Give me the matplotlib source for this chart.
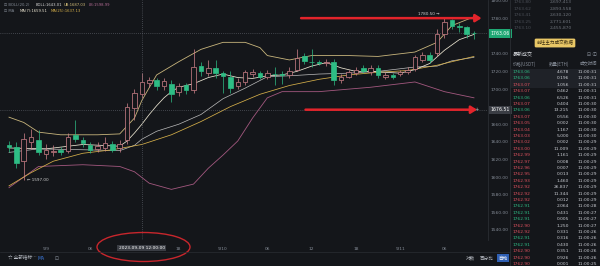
import matplotlib.pyplot as plt
from matplotlib.patches import Rectangle, Ellipse, FancyArrowPatch
from matplotlib.lines import Line2D
from matplotlib.transforms import blended_transform_factory

W, H = 600, 266
BG = '#14161a'
CJK = ['Noto Sans CJK SC', 'DejaVu Sans']

# ---- candle data (1h candles) ----
opens = [1636, 1634, 1618, 1640, 1642, 1626, 1629, 1631, 1630, 1648, 1642, 1636, 1632, 1633, 1637, 1633,
         1642, 1678, 1694, 1707, 1710, 1703, 1706, 1697, 1704, 1699, 1726, 1718, 1724, 1718, 1714, 1703,
         1708, 1717, 1718, 1714, 1717.5, 1717, 1716, 1722, 1737, 1731, 1731, 1729, 1731, 1710, 1714, 1718,
         1724, 1719, 1724, 1714, 1716, 1717, 1719, 1723, 1733, 1739, 1741, 1762, 1778, 1772, 1770, 1764]
highs = [1641, 1640, 1650, 1655, 1653, 1637, 1636, 1634, 1650, 1665, 1646, 1640, 1640, 1645, 1641, 1642,
         1684, 1700, 1718, 1714, 1713, 1712, 1710, 1707, 1707, 1745, 1731, 1733, 1733, 1720, 1721, 1712,
         1722, 1723, 1721, 1722, 1725, 1720, 1725, 1745, 1741, 1745, 1733, 1734, 1734, 1717, 1722, 1725,
         1727, 1727, 1727, 1719, 1718, 1722, 1725, 1739, 1742, 1742, 1768, 1780.5, 1779, 1775, 1772, 1766]
lows = [1628, 1610, 1597, 1632, 1625, 1620, 1624, 1625, 1627, 1640, 1634, 1627, 1628, 1630, 1628, 1629,
        1638, 1665, 1690, 1702, 1699, 1699, 1685, 1692, 1694, 1696, 1715, 1715, 1713, 1695, 1695, 1700,
        1705, 1714, 1711, 1711, 1705, 1706, 1713, 1720, 1728, 1725, 1727, 1726, 1704, 1707, 1712, 1716,
        1718, 1716, 1713, 1711, 1711, 1715, 1717, 1721, 1731, 1730, 1738, 1758, 1768, 1765, 1758, 1757]
closes = [1634, 1616, 1643, 1646, 1629, 1631, 1630, 1629, 1645, 1643, 1639, 1631, 1635, 1639, 1631, 1638,
          1679, 1696, 1708, 1710, 1703, 1709, 1694, 1703, 1699, 1725, 1720, 1724, 1718, 1715, 1701, 1708,
          1719, 1719, 1714, 1718, 1716.5, 1716, 1721, 1735, 1732, 1730.5, 1729, 1731, 1710, 1714, 1719, 1722,
          1721, 1724, 1716, 1716, 1714, 1719, 1722, 1736, 1739, 1733, 1763, 1776, 1772, 1770, 1762, 1763.06]

# ---- indicator readings (candle index, price) ----
ub_idx = [0, 2, 4, 7, 12, 15, 17, 18, 20, 23, 26, 29, 32, 34, 35, 38, 41, 46, 50, 55, 58, 60, 63]
ub_val = [1668, 1662, 1651, 1648, 1648, 1649, 1667, 1687, 1716, 1731, 1745, 1753, 1753, 1747, 1738,
          1733, 1738, 1738, 1737, 1742, 1753, 1772, 1782]
lb_idx = [0, 2, 4, 10, 15, 17, 19, 22, 25, 27, 29, 31, 33, 35, 37, 42, 49, 55, 59, 63]
lb_val = [1588, 1600, 1612, 1614, 1612, 1606, 1593, 1586, 1592, 1610, 1625, 1641, 1667, 1690, 1697,
          1697, 1702, 1708, 1697, 1690]
mid_idx = [0, 4, 10, 15, 17, 18, 20, 23, 26, 29, 32, 35, 38, 42, 46, 50, 55, 58, 60, 63]
mid_val = [1628, 1632, 1631, 1630, 1636, 1643, 1652, 1660, 1671, 1689, 1701, 1714, 1715, 1717, 1718,
           1720, 1725, 1726, 1732, 1736]
ma7_idx = [0, 5, 10, 15, 16, 17, 18, 19, 20, 21, 22, 23, 25, 27, 29, 31, 33, 35, 37, 39, 41, 43, 45,
           47, 49, 51, 53, 55, 57, 59, 61, 63]
ma7_val = [1633, 1632, 1637, 1635, 1641, 1650, 1660, 1671, 1681, 1690, 1697, 1702, 1706, 1713, 1717,
           1713, 1712, 1715, 1716, 1720, 1726, 1730, 1724, 1720, 1720, 1719, 1718, 1722, 1729, 1744, 1756, 1762]
ma25_idx = [0, 3, 6, 10, 14, 18, 22, 26, 30, 34, 38, 42, 46, 50, 54, 58, 63]
ma25_val = [1590, 1605, 1618, 1627, 1631, 1637, 1648, 1663, 1680, 1694, 1704, 1711, 1716, 1719, 1721,
            1727, 1737]

yticks = list(range(1540, 1801, 20))
xtick_idx = [5, 11, 23, 29, 35, 41, 47, 53, 59]
xtick_lab = ['9/9', '06', '18', '9/10', '06', '12', '18', '9/11', '06']
cross_idx = 18
cross_price = 1676.51
cross_time = '2023-09-09 12:00:00'
last_price = 1763.06
low_label = '1597.00'

# ---- recent trades ----
tr_price = ['1763.06', '1763.06', '1763.07', '1763.07', '1763.06', '1763.07', '1763.06', '1763.07',
            '1763.05', '1763.04', '1763.03', '1763.02', '1763.00', '1762.99', '1762.97', '1762.96',
            '1762.95', '1762.93', '1762.92', '1762.92', '1762.92', '1762.91', '1762.91', '1762.91',
            '1762.90', '1762.92', '1762.91', '1762.91', '1762.90', '1762.90', '1762.90']
tr_qty = ['4.678', '0.196', '1.056', '0.462', '6.526', '0.404', '13.215', '0.556', '0.002', '1.167',
          '5.000', '0.002', '11.009', '1.161', '0.008', '0.007', '0.013', '1.460', '26.837', '11.344',
          '0.012', '2.064', '0.431', '0.005', '1.250', '0.331', '0.316', '0.430', '0.351', '0.926', '0.001']
tr_time = ['11:00:31'] * 5 + ['11:00:30'] * 6 + ['11:00:29'] * 10 + ['11:00:28'] + ['11:00:27'] * 3 + \
          ['11:00:26'] * 5 + ['11:00:25']
tr_buy = [1, 1, 0, 0, 1, 0, 1, 0, 0, 0, 0, 0, 0, 0, 0, 0, 0, 0, 0, 0, 0, 1, 1, 1, 0, 0, 1, 1, 0, 0, 0]

book_price = ['1763.80', '1763.62', '1763.41', '1763.25', '1763.10']
book_total = ['2,697,413', '2,893,558', '2,630,120', '2,771,601', '2,455,870']

UPC = '#d4848c'
DNC = '#2ebd85'
GREY = '#848b96'


def fx(x):
    return x / W


def fy(y):
    return 1 - y / H


fig = plt.figure(figsize=(6, 2.66), dpi=100, facecolor=BG)
ax = fig.add_axes([0, 26 / H, 488 / W, 240 / H], facecolor=BG)
ax.set_xlim(-1.22, 64.9)
ax.set_ylim(1528.5, 1801.1)
for s in ax.spines.values():
    s.set_visible(False)
ax.spines['right'].set_visible(True)
ax.spines['right'].set_color('#2a2d33')
ax.spines['right'].set_linewidth(0.6)

# indicator lines
ax.plot(ub_idx, ub_val, color='#c8b57c', lw=0.6)
ax.plot(lb_idx, lb_val, color='#a3587f', lw=0.6)
ax.plot(mid_idx, mid_val, color='#bdbdbd', lw=0.5)
ax.plot(ma25_idx, ma25_val, color='#d6b04a', lw=0.55)
ax.plot(ma7_idx, ma7_val, color='#ece6d2', lw=0.55)

# candles
for i, (o, h, l, c) in enumerate(zip(opens, highs, lows, closes)):
    up = c >= o
    col = UPC if up else DNC
    lo_b, hi_b = min(o, c), max(o, c)
    ax.vlines(i, l, lo_b, color=col, lw=0.5)
    ax.vlines(i, hi_b, h, color=col, lw=0.5)
    ax.add_patch(Rectangle((i - 0.31, lo_b), 0.62, max(hi_b - lo_b, 0.5),
                           facecolor=BG if up else col, edgecolor=col, lw=0.5, zorder=3))

# crosshair and last price lines
ax.axhline(last_price, color='#6c7079', lw=0.5, ls=(0, (1, 2)))
ax.axhline(cross_price, color='#6c7079', lw=0.5, ls=(0, (1, 2)))
ax.axvline(cross_idx, color='#6c7079', lw=0.5, ls=(0, (1, 2)))

# high / low labels
hi_i = highs.index(max(highs))
ax.text(hi_i - 0.6, max(highs) + 2, f'{max(highs):.2f} →', color='#d0d0d0', fontsize=3.0,
        ha='right', va='bottom')
lo_i = lows.index(min(lows))
ax.text(lo_i + 0.5, min(lows), f'← {low_label}', color='#d0d0d0', fontsize=3.0, ha='left', va='center')

# red annotation arrows
for y0, x0, x1 in [(max(highs), 39.2, 64.4), (cross_price, 39.8, 63.8)]:
    ax.add_patch(FancyArrowPatch((x0, y0), (x1, y0), arrowstyle='-|>,head_length=3.5,head_width=2.2',
                                 color='#e3242b', lw=1.8, mutation_scale=1, zorder=6))

# axes ticks (labels under the price boxes are hidden, as in the app)
ax.set_yticks(yticks)
ax.set_yticklabels(['' if v in (1680, 1760) else f'{v:.2f}' for v in yticks])
ax.yaxis.tick_right()
ax.tick_params(axis='y', length=0, pad=2, labelsize=3.2, labelcolor=GREY)
ax.set_xticks(xtick_idx)
ax.set_xticklabels(xtick_lab)
ax.tick_params(axis='x', length=0, pad=5, labelsize=3.2, labelcolor=GREY)

tr = blended_transform_factory(ax.transAxes, ax.transData)
ax.text(1.006, last_price, f'{last_price:.2f}', transform=tr, fontsize=3.3, color='white',
        ha='left', va='center', zorder=8,
        bbox=dict(boxstyle='square,pad=0.35', fc='#1fa874', ec='none'))
ax.text(1.006, cross_price, f'{cross_price:.2f}', transform=tr, fontsize=3.3, color='white',
        ha='left', va='center', zorder=8,
        bbox=dict(boxstyle='square,pad=0.35', fc='#3a3d44', ec='none'))
ax.text(0.982, cross_price, '+', transform=tr, fontsize=3.6, color='#cfcfcf', ha='right', va='center')
trx = blended_transform_factory(ax.transData, ax.transAxes)
ax.text(cross_idx, -0.033, cross_time, transform=trx, fontsize=3.2, color='white', ha='center',
        va='center', zorder=8, clip_on=False, bbox=dict(boxstyle='square,pad=0.3', fc='#3a3d44', ec='none'))

# legend top left
fs_leg = 2.7
fig.text(fx(4), fy(5), '⊡ BOLL(20,2)', fontsize=fs_leg, color=GREY, va='center')
fig.text(fx(36), fy(5), 'BOLL:1643.01', fontsize=fs_leg, color='#d8d8d8', va='center')
fig.text(fx(64), fy(5), 'UB:1687.03', fontsize=fs_leg, color='#d6c07a', va='center')
fig.text(fx(89), fy(5), 'LB:1598.99', fontsize=fs_leg, color='#b06a92', va='center')
fig.text(fx(4), fy(11), '⊡ MA', fontsize=fs_leg, color=GREY, va='center')
fig.text(fx(20), fy(11), 'MA(7):1659.51', fontsize=fs_leg, color='#ece6d2', va='center')
fig.text(fx(51), fy(11), 'MA(25):1637.13', fontsize=fs_leg, color='#d6b04a', va='center')

# red ellipse around time label
fig.patches.append(Ellipse((fx(143.5), fy(247)), 93 / W, 29 / H, transform=fig.transFigure,
                           fill=False, ec='#c8262c', lw=1.0))

# bottom bar
fig.add_artist(Line2D([0, fx(510)], [fy(252), fy(252)], color='#2a2d33', lw=0.5))
fig.text(fx(8), fy(258), '☆ 全部指标…', fontsize=3.3, color='#b8bcc4', va='center', family=CJK)
fig.text(fx(38), fy(258), 'MA', fontsize=3.3, color='#3d7be0', va='center')
fig.text(fx(55), fy(258), '⊡', fontsize=3.3, color=GREY, va='center')
fig.text(fx(466), fy(258), '对数', fontsize=3.3, color='#b8bcc4', va='center', family=CJK)
fig.text(fx(480), fy(258), '百分比', fontsize=3.3, color='#b8bcc4', va='center', family=CJK)
fig.text(fx(498), fy(258), '自动', fontsize=3.3, color='white', va='center', family=CJK,
         bbox=dict(boxstyle='square,pad=0.3', fc='#2f5fb3', ec='none'))

# right panel
fig.add_artist(Line2D([fx(510), fx(510)], [0, 1], color='#2a2d33', lw=0.6))
for k, (bp, bt) in enumerate(zip(book_price, book_total)):
    y = 2 + k * 6.6
    fig.text(fx(514), fy(y), bp, fontsize=3.2, color='#4a4e56', va='center')
    fig.text(fx(572), fy(y), bt, fontsize=3.2, color='#6f747c', va='center', ha='right')
fig.text(fx(555), fy(43), '前往主力成交数据', fontsize=3.3, color='#3a2e10', va='center', ha='center',
         family=CJK, bbox=dict(boxstyle='round,pad=0.4,rounding_size=0.3', fc='#e9c766', ec='none'))
fig.text(fx(513), fy(55), '最新成交', fontsize=3.6, color='#d8dbe0', va='center', family=CJK)
fig.text(fx(597), fy(55), '⊟ ⓘ', fontsize=3.4, color=GREY, va='center', ha='right',
         family=['DejaVu Sans', 'Noto Sans CJK SC'])
fig.text(fx(513), fy(64), '价格(USDT)', fontsize=3.2, color=GREY, va='center', family=CJK)
fig.text(fx(569), fy(64), '数量(ETH)', fontsize=3.2, color=GREY, va='center', ha='right', family=CJK)
fig.text(fx(597), fy(64), '成交时间', fontsize=3.2, color=GREY, va='center', ha='right', family=CJK)
for k in range(len(tr_price)):
    y = 72 + k * 6.4
    if k < 3:
        fig.patches.append(Rectangle((fx(511), fy(y + 3.2)), 89 / W, 6.4 / H, transform=fig.transFigure,
                                     fc='#1f2228', ec='none'))
    fig.text(fx(513), fy(y), tr_price[k], fontsize=3.2, color=DNC if tr_buy[k] else '#e0525f', va='center')
    fig.text(fx(569), fy(y), tr_qty[k], fontsize=3.2, color='#c9ccd2', va='center', ha='right')
    fig.text(fx(597), fy(y), tr_time[k], fontsize=3.2, color='#c9ccd2', va='center', ha='right')

fig.savefig('out.png', dpi=100, facecolor=BG)
